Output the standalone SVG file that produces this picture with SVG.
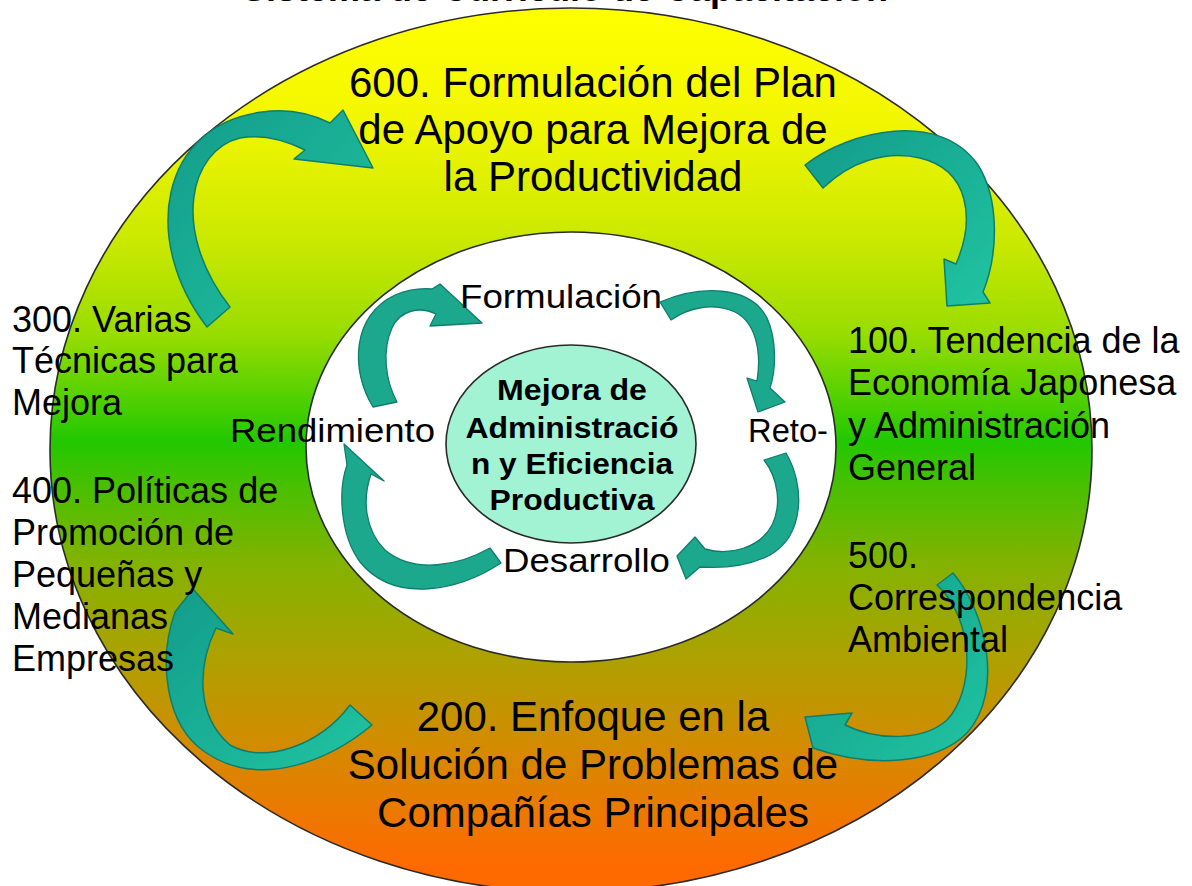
<svg xmlns="http://www.w3.org/2000/svg" width="1192" height="886" viewBox="0 0 1192 886">
<defs>
<linearGradient id="ring" gradientUnits="userSpaceOnUse" x1="0" y1="8" x2="0" y2="892">
<stop offset="0" stop-color="#ffff00"/>
<stop offset="0.13" stop-color="#f2f600"/>
<stop offset="0.27" stop-color="#c8e800"/>
<stop offset="0.37" stop-color="#98dc00"/>
<stop offset="0.49" stop-color="#22c800"/>
<stop offset="0.54" stop-color="#48c000"/>
<stop offset="0.63" stop-color="#84b200"/>
<stop offset="0.73" stop-color="#aca200"/>
<stop offset="0.83" stop-color="#d28c00"/>
<stop offset="0.97" stop-color="#ff6a00"/>
</linearGradient>
<linearGradient id="arrowG" x1="0" y1="0" x2="1" y2="1">
<stop offset="0" stop-color="#139c8a"/>
<stop offset="1" stop-color="#20c4a2"/>
</linearGradient>
<style>
.ell{stroke:#2a2a2a;stroke-width:1.6}
.t{font-family:"Liberation Sans",Arial,sans-serif;fill:#000}
.big{font-size:42px;text-anchor:middle}
.side{font-size:36px}
.lab{font-size:34px}
.ctr{font-size:29px;font-weight:bold;text-anchor:middle}
.oa{fill:url(#arrowG);stroke:#0f7d6c;stroke-width:1.5;stroke-linejoin:round}
.ia{fill:#1ba88d;stroke:#0f7d6c;stroke-width:1.3;stroke-linejoin:round}
</style>
</defs>
<rect width="1192" height="886" fill="#ffffff"/>
<g id="ring-outer">
<ellipse class="ell" cx="571" cy="450" rx="521" ry="442" fill="url(#ring)"/>
</g>
<g id="ring-inner">
<ellipse class="ell" cx="571" cy="447" rx="265" ry="215" fill="#ffffff"/>
</g>
<g id="connectors">
<path class="oa" d="M207,327 C140,240 160,125 262,112 C290,108 312,114 330,123 L343,110 L373,168 L294,159 L305,150 C285,140 262,134 240,138 C190,150 170,230 230,307 Z"/>
<path class="oa" d="M805,165 C850,130 940,110 978,165 C1000,200 998,255 983,292 L990,303 L947,306 L944,259 L956,264 C975,220 970,170 920,158 C885,150 850,162 823,188 Z"/>
<path class="oa" d="M953,573 C985,610 1005,690 967,733 C935,765 870,768 813,748 L805,717 L852,713 L845,725 C880,742 925,740 947,720 C975,690 975,620 937,585 Z"/>
<path class="oa" d="M372,725 C330,760 260,790 205,752 C165,725 158,660 175,612 L193,589 L233,634 L216,628 C198,665 195,715 230,745 C265,765 320,745 350,705 Z"/>
<path class="ia" d="M373,407 C350,370 352,315 395,295 C410,289 422,288 432,289 L440,284 L482,323 L430,326 L436,314 C420,306 400,310 392,328 C382,350 385,380 397,402 Z"/>
<path class="ia" d="M660,302 C700,285 750,285 767,318 C777,340 776,370 770,388 L785,402 L758,412 L747,378 L757,381 C762,350 755,322 735,312 C712,302 688,308 671,320 Z"/>
<path class="ia" d="M786,453 C805,485 805,535 770,555 C745,568 715,568 700,567 L686,579 L677,556 L695,537 L705,549 C730,556 760,548 772,525 C782,505 778,478 764,460 Z"/>
<path class="ia" d="M501,563 C460,590 395,605 360,562 C340,535 338,490 347,465 L344,444 L384,481 L371,474 C362,500 365,530 385,550 C415,575 460,565 490,548 Z"/>
</g>
<g id="title">
<text class="t" x="565" y="1" font-size="36" font-weight="bold" text-anchor="middle">Sistema de Currículo de Capacitación</text>
</g>
<g id="node-600">
<text class="t big" x="593" y="97">600. Formulación del Plan</text>
<text class="t big" x="593" y="144">de Apoyo para Mejora de</text>
<text class="t big" x="593" y="191">la Productividad</text>
</g>
<g id="node-100">
<text class="t side" x="848" y="353">100. Tendencia de la</text>
<text class="t side" x="848" y="395">Economía Japonesa</text>
<text class="t side" x="848" y="438">y Administración</text>
<text class="t side" x="848" y="480">General</text>
</g>
<g id="node-500">
<text class="t side" x="848" y="568">500.</text>
<text class="t side" x="848" y="610">Correspondencia</text>
<text class="t side" x="848" y="652">Ambiental</text>
</g>
<g id="node-200">
<text class="t big" x="593" y="731">200. Enfoque en la</text>
<text class="t big" x="593" y="779">Solución de Problemas de</text>
<text class="t big" x="593" y="827">Compañías Principales</text>
</g>
<g id="node-300">
<text class="t side" x="12" y="332">300. Varias</text>
<text class="t side" x="12" y="373">Técnicas para</text>
<text class="t side" x="12" y="415">Mejora</text>
</g>
<g id="node-400">
<text class="t side" x="12" y="503">400. Políticas de</text>
<text class="t side" x="12" y="545">Promoción de</text>
<text class="t side" x="12" y="587">Pequeñas y</text>
<text class="t side" x="12" y="629">Medianas</text>
<text class="t side" x="12" y="671">Empresas</text>
</g>
<g id="label-formulacion"><text class="t lab" x="460" y="308" textLength="202" lengthAdjust="spacingAndGlyphs">Formulación</text></g>
<g id="label-reto"><text class="t lab" x="748" y="442" textLength="80" lengthAdjust="spacingAndGlyphs">Reto-</text></g>
<g id="label-desarrollo"><text class="t lab" x="503" y="572" textLength="167" lengthAdjust="spacingAndGlyphs">Desarrollo</text></g>
<g id="label-rendimiento"><text class="t lab" x="230" y="442" textLength="205" lengthAdjust="spacingAndGlyphs">Rendimiento</text></g>
<g id="center">
<ellipse class="ell" cx="571" cy="444" rx="125" ry="99" fill="#a2f2d4"/>
<text class="t ctr" x="572" y="400" textLength="150" lengthAdjust="spacingAndGlyphs">Mejora de</text>
<text class="t ctr" x="572" y="438" textLength="213" lengthAdjust="spacingAndGlyphs">Administració</text>
<text class="t ctr" x="572" y="474" textLength="202" lengthAdjust="spacingAndGlyphs">n y Eficiencia</text>
<text class="t ctr" x="572" y="510" textLength="165" lengthAdjust="spacingAndGlyphs">Productiva</text>
</g>
</svg>
